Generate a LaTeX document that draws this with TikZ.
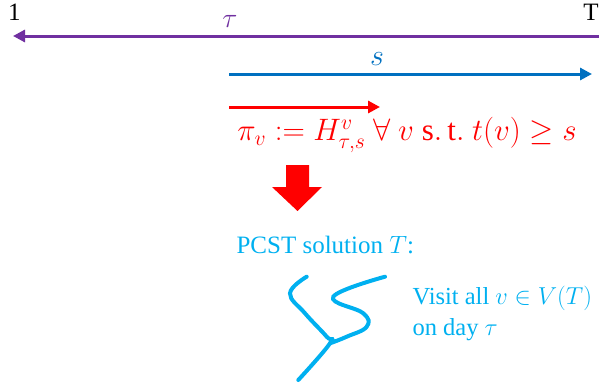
\RequirePackage{fix-cm}
\documentclass[tikz,border=0pt]{standalone}
\usepackage{amsmath}
\usepackage{fontspec}
\setmainfont{Liberation Serif}
\usetikzlibrary{arrows.meta}
\definecolor{taucol}{RGB}{112,48,160}
\definecolor{scol}{RGB}{0,112,192}
\definecolor{pcstcol}{RGB}{0,176,240}
\begin{document}
\begin{tikzpicture}[x=1pt,y=-1pt,>={Triangle[length=12pt,width=12pt]},
  fs/.style={font=\fontsize{#1}{#1}\selectfont},
  axis/.style={->,line width=3pt}]
\useasboundingbox (0,0) rectangle (599,388);
\node[fs=25] (one) at (14.5,12) {1};
\node[fs=25] (bigT) at (591,12) {T};
\coordinate (tauR) at (599,36); \coordinate (tauL) at (13,36);
\draw[axis,taucol] (tauR) -- (tauL);
\node[fs=28,taucol] (taulbl) at (230,21) {$\tau$};
\coordinate (sL) at (229,74); \coordinate (sR) at (592,74);
\draw[axis,scol] (sL) -- (sR);
\node[fs=30,scol] (slbl) at (377,59) {$s$};
\coordinate (piL) at (229,107); \coordinate (piR) at (380,107);
\draw[axis,red] (piL) -- (piR);
\node[fs=31,red] (policy) at (407,135) {$\pi_v := H^v_{\tau,s}\ \forall\ v\ \mathrm{s.\,t.}\ t(v) \geq s$};
\fill[red] (286,165) -- (309,165) -- (309,187) -- (322,187) -- (297.5,211) -- (272,187) -- (286,187) -- cycle;
\node[fs=25,pcstcol,anchor=west] (sol) at (233,245) {PCST solution $T$:};
\draw[pcstcol,line width=4pt,line cap=round] plot[smooth,tension=0.7] coordinates {(306.7,276.7) (290,293.3) (305,313.3) (326.7,336.7) (330,343.3) (298.3,380)};
\draw[pcstcol,line width=4pt,line cap=round] plot[smooth,tension=0.7] coordinates {(385,276.7) (333.3,296.7) (363.3,313.3) (366.7,326.7) (346.7,336.7) (330,343.3)};
\node[pcstcol,anchor=west,align=left,font=\fontsize{24.5}{31}\selectfont] (visit) at (409,313) {Visit all $v \in V(T)$\\on day $\tau$};
\end{tikzpicture}
\end{document}
